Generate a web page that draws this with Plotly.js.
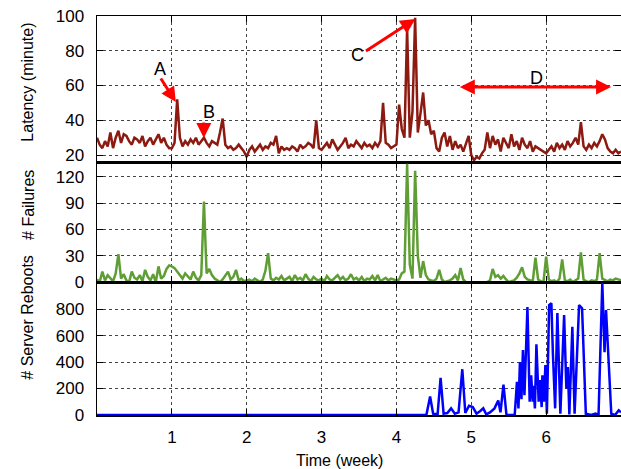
<!DOCTYPE html>
<html>
<head>
<meta charset="utf-8">
<script src="https://cdn.plot.ly/plotly-3.0.1.min.js"></script>
<style>html,body{margin:0;padding:0;background:#fff;}#chart{width:621px;height:469px;}</style>
</head>
<body>
<div id="chart"></div>
<script>
// ---- data (x in weeks; latency & failures sampled 4 times per day) ----
const samplesPerWeek = 28;
const latency = [
  30,26,24,28,25,33,24,30,34,27,32,31,28,26,30,29,27,31,25,28,30,26,29,32,27,30,26,24,
  24,27,52,30,25,28,26,29,27,30,26,28,30,27,25,28,27,26,33,41,26,24,25,23,24,26,24,22,
  19,23,25,22,24,26,23,25,24,27,26,31,21,25,23,24,23,25,24,22,26,24,25,27,26,24,40,24,
  23,25,27,24,29,26,23,25,27,30,24,26,25,28,26,24,27,25,26,24,27,25,28,50,27,26,24,25,
  26,49,35,30,93,30,45,99,33,44,56,37,40,32,34,24,22,30,33,25,31,23,28,24,26,22,27,31,
  20,17,19,18,21,23,33,24,31,26,29,22,30,27,24,32,25,28,23,30,26,24,28,22,25,24,23,22,
  21,23,25,22,27,24,26,23,28,25,27,30,26,39,25,23,26,24,27,25,28,32,29,24,22,21,23,21,
  22
];
const failures = [
  3,0,12,2,8,5,1,10,32,4,9,2,0,12,5,3,8,1,14,6,2,9,0,18,4,7,15,19,
  18,16,12,8,4,10,6,3,12,5,2,8,92,10,15,8,4,2,0,3,8,12,3,6,14,2,4,1,
  2,3,1,4,2,0,3,13,33,4,2,5,3,7,2,4,6,1,8,3,5,2,9,4,1,6,3,2,
  4,1,7,3,2,5,8,3,6,2,4,9,3,5,2,6,1,4,3,7,2,8,1,3,5,2,4,3,
  2,3,10,12,135,20,4,127,30,5,24,8,3,2,1,4,14,3,0,1,2,4,8,2,16,3,0,0,
  0,0,0,0,0,0,0,2,15,6,8,4,7,3,0,1,2,5,10,17,6,3,2,1,28,3,1,0,
  29,3,1,2,0,4,26,2,1,3,0,2,4,34,3,1,0,2,1,3,33,4,2,1,3,2,4,3,
  2
];
const rebootWeek = [0,4.40,4.45,4.49,4.55,4.59,4.63,4.68,4.73,4.78,4.83,4.88,4.92,4.97,5.02,5.07,5.12,5.16,5.20,5.25,5.31,5.36,5.39,5.43,5.47,5.58,5.61,5.63,5.65,5.67,5.69,5.71,5.75,5.78,5.80,5.82,5.83,5.85,5.87,5.90,5.92,5.94,5.95,5.97,5.99,6.01,6.04,6.07,6.09,6.12,6.15,6.19,6.24,6.27,6.29,6.31,6.35,6.38,6.44,6.48,6.53,6.60,6.66,6.70,6.75,6.78,6.80,6.83,6.87,6.92,6.97,7.0];
const rebootCount = [0,0,140,10,5,280,10,15,50,10,20,346,15,70,60,10,30,50,5,20,50,110,20,230,0,0,250,50,400,120,490,150,815,100,300,100,220,50,535,100,263,60,300,100,378,10,830,845,467,50,770,10,755,200,362,5,666,10,830,806,10,0,10,0,1000,474,793,500,10,0,35,20];
const weekTicks = [1,2,3,4,5,6,7];
const weekTickLabels = ['1','2','3','4','5','6','7'];
const latencyTicks = [20,40,60,80,100];
const failureTicks = [0,30,60,90,120];
const rebootTicks = [0,200,400,600,800];

const latencyWeek = latency.map((_, i) => i / samplesPerWeek);
const failureWeek = failures.map((_, i) => i / samplesPerWeek);

const FONT = 'Liberation Sans, Arial, Helvetica, sans-serif';

const traces = [
  {x: latencyWeek, y: latency, xaxis: 'x', yaxis: 'y', type: 'scatter', mode: 'lines',
   line: {color: '#8c1a10', width: 2.5}, hoverinfo: 'skip'},
  {x: failureWeek, y: failures, xaxis: 'x2', yaxis: 'y2', type: 'scatter', mode: 'lines',
   line: {color: '#5f9e34', width: 2.5}, hoverinfo: 'skip'},
  {x: rebootWeek, y: rebootCount, xaxis: 'x3', yaxis: 'y3', type: 'scatter', mode: 'lines',
   line: {color: '#0000ff', width: 2.5}, hoverinfo: 'skip'}
];

function xax(extra) {
  return Object.assign({
    range: [0, 7], tickvals: weekTicks, ticktext: weekTickLabels,
    ticks: 'inside', ticklen: 6, tickwidth: 1, tickcolor: '#000',
    showline: true, linewidth: 1.5, linecolor: '#000', mirror: 'ticks',
    showgrid: true, gridcolor: '#444', griddash: 'dot', gridwidth: 1,
    zeroline: false, tickfont: {family: FONT, size: 17, color: '#000'}
  }, extra);
}
function yax(extra) {
  return Object.assign({
    ticks: 'inside', ticklen: 6, tickwidth: 1, tickcolor: '#000',
    showline: true, linewidth: 1.5, linecolor: '#000', mirror: 'ticks',
    showgrid: true, gridcolor: '#444', griddash: 'dot', gridwidth: 1,
    zeroline: false, ticklabelstandoff: 8,
    tickfont: {family: FONT, size: 17, color: '#000'}
  }, extra);
}

const arrowCommon = {xref: 'x', yref: 'y', axref: 'x', ayref: 'y', text: '', showarrow: true,
  arrowcolor: '#ff0000', arrowwidth: 3, arrowhead: 2, arrowsize: 1};
const textCommon = {xref: 'x', yref: 'y', showarrow: false, font: {family: FONT, size: 18, color: '#000'}};
const ytitle = {xref: 'paper', yref: 'paper', showarrow: false, textangle: -90,
  font: {family: FONT, size: 16, color: '#000'}, x: -0.132, xanchor: 'center', yanchor: 'middle'};

const layout = {
  width: 621, height: 469,
  margin: {l: 97, r: 0, t: 16, b: 54},
  paper_bgcolor: '#fff', plot_bgcolor: '#fff',
  showlegend: false,
  font: {family: FONT, size: 17, color: '#000'},
  xaxis: xax({anchor: 'y', showticklabels: false}),
  xaxis2: xax({anchor: 'y2', matches: 'x', showticklabels: false}),
  xaxis3: xax({anchor: 'y3', matches: 'x', ticklabelstandoff: 6}),
  yaxis: yax({domain: [0.634, 1], anchor: 'x', range: [16, 100], tickvals: latencyTicks}),
  yaxis2: yax({domain: [0.333, 0.634], anchor: 'x2', range: [0, 137], tickvals: failureTicks}),
  yaxis3: yax({domain: [0, 0.333], anchor: 'x3', range: [0, 1004], tickvals: rebootTicks}),
  annotations: [
    Object.assign({}, arrowCommon, {x: 1.053, y: 50.5, ax: 0.84, ay: 64.9}),
    Object.assign({}, arrowCommon, {x: 1.427, y: 29.8, ax: 1.427, ay: 39.6}),
    Object.assign({}, arrowCommon, {x: 4.253, y: 98.3, ax: 3.573, ay: 79.3}),
    Object.assign({}, arrowCommon, {x: 6.867, y: 59.1, ax: 4.827, ay: 59.1, arrowside: 'end+start'}),
    Object.assign({}, textCommon, {x: 0.84, y: 69.5, text: 'A'}),
    Object.assign({}, textCommon, {x: 1.493, y: 44.5, text: 'B'}),
    Object.assign({}, textCommon, {x: 3.48, y: 77.5, text: 'C'}),
    Object.assign({}, textCommon, {x: 5.867, y: 64.5, text: 'D'}),
    Object.assign({}, ytitle, {y: 0.835, text: 'Latency (minute)'}),
    Object.assign({}, ytitle, {y: 0.526, text: '# Failures'}),
    Object.assign({}, ytitle, {y: 0.246, text: '# Server Reboots'}),
    {xref: 'paper', yref: 'paper', x: 0.462, y: -0.115, xanchor: 'center', yanchor: 'middle',
     showarrow: false, text: 'Time (week)', font: {family: FONT, size: 16, color: '#000'}}
  ]
};

Plotly.newPlot('chart', traces, layout, {displayModeBar: false, staticPlot: true});
</script>
</body>
</html>
